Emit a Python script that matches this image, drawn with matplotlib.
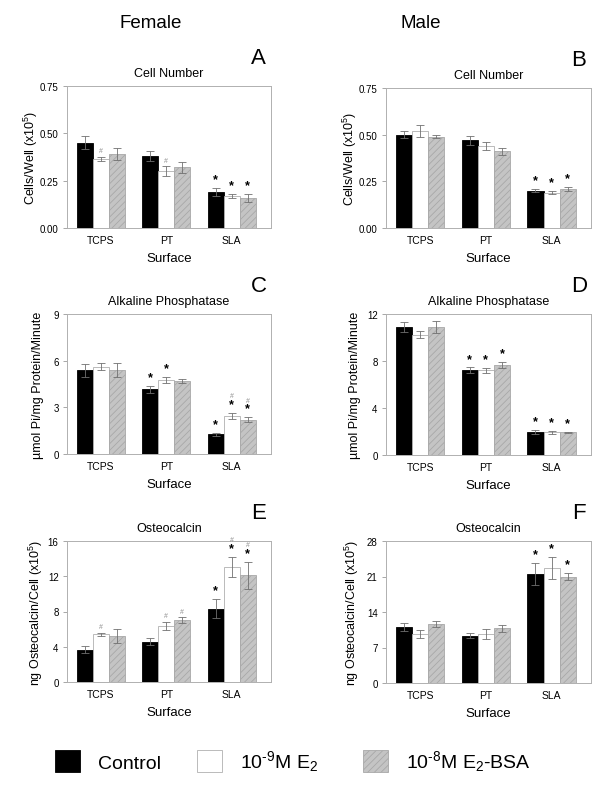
import matplotlib
matplotlib.use('Agg')
import matplotlib.pyplot as plt
import numpy as np

plt.rcParams['font.family'] = ['Liberation Sans', 'DejaVu Sans']
plt.rcParams['mathtext.default'] = 'regular'
plt.rcParams['hatch.linewidth'] = 0.6

surfaces = ['TCPS', 'PT', 'SLA']
groups = ['Control', '10$^{‐9}$M E$_2$', '10$^{‐8}$M E$_2$-BSA']

# panel A - female cell number
a_mean = [[0.45, 0.38, 0.19], [0.365, 0.30, 0.17], [0.39, 0.32, 0.16]]
a_err = [[0.035, 0.025, 0.022], [0.012, 0.025, 0.012], [0.03, 0.028, 0.022]]
a_marks = [['', '', '*'], ['#', '#', '*'], ['', '', '*']]

# panel B - male cell number
b_mean = [[0.50, 0.47, 0.20], [0.52, 0.44, 0.19], [0.49, 0.41, 0.21]]
b_err = [[0.02, 0.025, 0.008], [0.03, 0.022, 0.01], [0.01, 0.018, 0.01]]
b_marks = [['', '', '*'], ['', '', '*'], ['', '', '*']]

# panel C - female alkaline phosphatase
c_mean = [[5.38, 4.15, 1.26], [5.62, 4.74, 2.44], [5.43, 4.72, 2.2]]
c_err = [[0.4, 0.2, 0.1], [0.22, 0.2, 0.2], [0.45, 0.13, 0.15]]
c_marks = [['', '*', '*'], ['', '*', '*#'], ['', '', '*#']]

# panel D - male alkaline phosphatase
d_mean = [[10.9, 7.2, 1.93], [10.23, 7.2, 1.93], [10.9, 7.67, 1.93]]
d_err = [[0.4, 0.25, 0.17], [0.3, 0.2, 0.12], [0.5, 0.25, 0.06]]
d_marks = [['', '*', '*'], ['', '*', '*'], ['', '*', '*']]

# panel E - female osteocalcin
e_mean = [[3.67, 4.55, 8.33], [5.42, 6.33, 13.03], [5.19, 7.0, 12.12]]
e_err = [[0.38, 0.4, 1.06], [0.15, 0.45, 1.13], [0.8, 0.33, 1.55]]
e_marks = [['', '', '*'], ['#', '#', '*#'], ['', '#', '*#']]

# panel F - male osteocalcin
f_mean = [[11.0, 9.35, 21.5], [9.68, 9.68, 22.66], [11.6, 10.8, 20.95]]
f_err = [[0.8, 0.5, 2.1], [0.8, 1.0, 2.2], [0.6, 0.66, 0.7]]
f_marks = [['', '', '*'], ['', '', '*'], ['', '', '*']]

W, H = 600, 804
fig = plt.figure(figsize=(6, 8.04), dpi=100)

face = ['black', 'white', '#c4c4c4']
edge = ['black', '#b0b0b0', '#a8a8a8']
hatch = [None, None, '/////']


def px_axes(l, t, r, b):
    return fig.add_axes([l / W, 1 - b / H, (r - l) / W, (b - t) / H])


def panel(rect, mean, err, marks, ymax, yticks, fmt, title, ylabel, letter, ylab_px):
    ax = px_axes(*rect)
    x = np.arange(len(surfaces))
    bw = 0.245
    handles = []
    for i in range(3):
        pos = x + (i - 1) * bw
        h = ax.bar(pos, mean[i], bw, color=face[i], edgecolor=edge[i], hatch=hatch[i],
                   linewidth=0.6, label=groups[i], zorder=2)
        handles.append(h)
        ax.errorbar(pos, mean[i], yerr=err[i], fmt='none', ecolor='#707070',
                    elinewidth=0.6, capsize=3, capthick=0.6, zorder=3)
        for j in range(3):
            m = marks[i][j]
            if not m:
                continue
            top = mean[i][j] + err[i][j]
            off = 2
            if '*' in m:
                ax.annotate('*', (pos[j], top), xytext=(0, off), textcoords='offset points',
                            ha='center', va='bottom', fontsize=9, fontweight='bold', color='black')
                off += 8
            if '#' in m:
                ax.annotate('#', (pos[j], top), xytext=(0, off), textcoords='offset points',
                            ha='center', va='bottom', fontsize=5, color='#909090')
    ax.set_xlim(-0.52, 2.6)
    ax.set_ylim(0, ymax)
    ax.set_yticks(yticks)
    ax.set_yticklabels([fmt.format(v) for v in yticks], fontsize=7)
    ax.set_xticks(x)
    ax.set_xticklabels(surfaces, fontsize=7.5)
    ax.tick_params(axis='x', length=0, pad=5)
    ax.tick_params(axis='y', length=3, width=0.6, color='#999999', pad=3)
    for s in ax.spines.values():
        s.set_color('#b0b0b0')
        s.set_linewidth(0.7)
    ax.set_title(title, fontsize=9, pad=7)
    ax.set_xlabel('Surface', fontsize=9.5, labelpad=5)
    ax.set_ylabel(ylabel, fontsize=9)
    # label position given as the pixel x of its right-hand edge
    ax.yaxis.set_label_coords((ylab_px - rect[0]) / (rect[2] - rect[0]), 0.5)
    ax.text(0.94, 1.2, letter, transform=ax.transAxes, fontsize=16, ha='center', va='center')
    return handles


cells = 'Cells/Well (x10$^5$)'
alp = 'µmol Pi/mg Protein/Minute'
oc = 'ng Osteocalcin/Cell (x10$^5$)'

handles = panel((67, 87, 271, 229), a_mean, a_err, a_marks, 0.75, [0, 0.25, 0.5, 0.75], '{:.2f}',
                'Cell Number', cells, 'A', 40)
panel((386, 89, 591, 229), b_mean, b_err, b_marks, 0.75, [0, 0.25, 0.5, 0.75], '{:.2f}',
      'Cell Number', cells, 'B', 359)
panel((67, 315, 271, 455), c_mean, c_err, c_marks, 9, [0, 3, 6, 9], '{:d}',
      'Alkaline Phosphatase', alp, 'C', 44)
panel((386, 315, 591, 456), d_mean, d_err, d_marks, 12, [0, 4, 8, 12], '{:d}',
      'Alkaline Phosphatase', alp, 'D', 361)
panel((67, 542, 271, 683), e_mean, e_err, e_marks, 16, [0, 4, 8, 12, 16], '{:d}',
      'Osteocalcin', oc, 'E', 45)
panel((386, 542, 591, 684), f_mean, f_err, f_marks, 28, [0, 7, 14, 21, 28], '{:d}',
      'Osteocalcin', oc, 'F', 361)

fig.text(151 / W, 1 - 24 / H, 'Female', fontsize=13.5, ha='center', va='center')
fig.text(421 / W, 1 - 24 / H, 'Male', fontsize=13.5, ha='center', va='center')

# legend entries placed one by one to match the spacing
legend_x = [55, 197, 363]
for hx, h, g in zip(legend_x, handles, groups):
    fig.legend([h], [g], loc='center left', bbox_to_anchor=(hx / W, 1 - 762 / H),
               frameon=False, fontsize=14, handlelength=1.3, handleheight=1.3,
               handletextpad=0.9, borderpad=0, borderaxespad=0)

fig.savefig('out.png', dpi=100)
